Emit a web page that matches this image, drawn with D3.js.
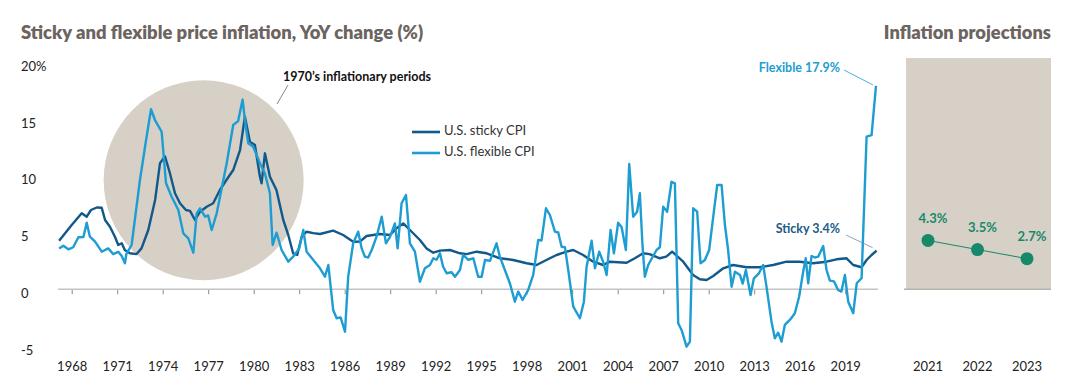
<!DOCTYPE html>
<html>
<head>
  <title>Sticky and flexible price inflation</title>
  <style>
    body { margin: 0; background: #fff; }
    svg text { font-family: Lato, "Open Sans", sans-serif; }
    .title { font-weight: 800; fill: #6c645f; }
    .tick-label { font-size: 13px; fill: #222; }
    .legend-label { font-size: 13px; fill: #333; }
    .note { font-size: 12.5px; font-weight: 700; }
  </style>
  <script src="https://d3js.org/d3.v7.min.js"></script>
</head>
<body>
  <div id="chart"></div>
  <script>
    const width = 1080;
    const height = 391;

    // year ticks and y ticks
    const yearTicks = [1968, 1971, 1974, 1977, 1980, 1983, 1986, 1989, 1992, 1995, 1998, 2001, 2004, 2007, 2010, 2013, 2016, 2019];
    const yTicks = [20, 15, 10, 5, 0, -5];

    // [year, YoY %]
    const stickyCPI = [
      [1967.17, 4.28], [1968.0, 5.66], [1968.66, 6.69], [1968.99, 6.39], [1969.27, 6.98], [1969.65, 7.2],
      [1969.98, 7.18], [1970.2, 6.1], [1970.52, 5.5], [1970.85, 4.63], [1971.07, 3.9], [1971.3, 4.05],
      [1971.5, 3.46], [1971.84, 3.17], [1972.28, 3.1], [1972.6, 3.6], [1973.05, 5.22], [1973.5, 7.86],
      [1973.82, 11.09], [1974.15, 11.7], [1974.48, 10.2], [1974.81, 8.45], [1975.14, 7.57], [1975.53, 6.98],
      [1975.8, 6.9], [1976.13, 6.1], [1976.46, 6.83], [1976.9, 7.27], [1977.33, 7.57], [1977.77, 8.74],
      [1978.2, 9.62], [1978.65, 10.5], [1979.1, 12.26], [1979.42, 15.19], [1979.75, 13.0], [1980.08, 12.7],
      [1980.41, 9.91], [1980.52, 9.33], [1980.74, 11.97], [1981.07, 9.9], [1981.5, 8.74], [1981.95, 6.1],
      [1982.28, 4.78], [1982.6, 3.17], [1982.87, 3.02], [1983.16, 4.63], [1983.49, 5.07], [1983.93, 4.95],
      [1984.37, 4.87], [1985.24, 5.16], [1985.9, 4.78], [1986.56, 4.19], [1987.0, 4.2], [1987.44, 4.69],
      [1988.32, 4.87], [1988.98, 4.78], [1989.42, 5.37], [1989.86, 5.8], [1990.3, 5.22], [1990.96, 4.34],
      [1991.4, 3.6], [1991.84, 3.22], [1992.28, 3.4], [1992.94, 3.46], [1993.6, 3.17], [1994.04, 3.1],
      [1994.7, 3.31], [1995.36, 3.17], [1996.23, 2.73], [1997.11, 2.58], [1998.0, 2.29], [1998.65, 2.14],
      [1999.3, 2.58], [1999.97, 3.02], [2000.63, 3.31], [2001.07, 3.46], [2001.72, 3.02], [2002.38, 2.43],
      [2003.04, 2.14], [2003.49, 2.43], [2004.59, 2.34], [2005.13, 2.73], [2005.68, 3.17], [2006.1, 3.1],
      [2006.78, 2.73], [2007.2, 2.87], [2007.59, 3.31], [2008.32, 2.43], [2008.97, 1.26], [2009.42, 0.88],
      [2009.86, 0.82], [2010.3, 1.17], [2010.96, 1.85], [2011.6, 2.14], [2012.5, 1.94], [2013.37, 1.94],
      [2014.25, 2.14], [2015.13, 2.43], [2016.0, 2.43], [2016.88, 2.29], [2017.77, 2.43], [2018.43, 2.64],
      [2019.09, 2.73], [2019.53, 2.14], [2020.08, 1.94], [2020.41, 2.58], [2020.74, 3.02], [2021.07, 3.4]
    ];

    const flexibleCPI = [
      [1967.17, 3.6], [1967.45, 3.84], [1967.78, 3.52], [1968.1, 3.7], [1968.44, 4.58], [1968.77, 4.6],
      [1968.99, 5.86], [1969.2, 4.63], [1969.54, 4.19], [1969.98, 3.31], [1970.41, 3.6], [1970.74, 3.1],
      [1971.07, 3.3], [1971.3, 2.93], [1971.51, 2.29], [1971.6, 3.1], [1971.95, 3.9], [1972.5, 9.62],
      [1972.9, 13.1], [1973.23, 15.85], [1973.49, 14.9], [1973.93, 13.87], [1974.22, 9.33], [1974.59, 8.15],
      [1975.03, 6.98], [1975.36, 4.93], [1975.69, 4.49], [1976.02, 3.22], [1976.24, 6.69], [1976.46, 7.13],
      [1976.79, 6.39], [1977.0, 6.5], [1977.23, 5.22], [1977.56, 6.69], [1978.22, 11.09], [1978.65, 14.46],
      [1978.97, 14.8], [1979.27, 16.7], [1979.42, 14.9], [1979.64, 12.85], [1979.97, 12.55], [1980.41, 11.09],
      [1980.74, 10.2], [1981.07, 8.45], [1981.25, 3.9], [1981.51, 4.98], [1981.84, 3.46], [1982.28, 2.43],
      [1982.6, 2.87], [1983.0, 3.6], [1983.27, 5.22], [1983.49, 3.31], [1983.93, 2.58], [1984.37, 1.85],
      [1984.7, 1.11], [1984.92, 2.14], [1985.24, -1.82], [1985.47, -2.55], [1985.73, -2.47], [1986.02, -3.73],
      [1986.23, 1.11], [1986.56, 4.05], [1986.89, 5.07], [1987.12, 3.6], [1987.33, 2.87], [1987.55, 2.8],
      [1987.78, 3.46], [1988.1, 4.63], [1988.44, 6.39], [1988.72, 4.05], [1988.98, 4.6], [1989.31, 5.8],
      [1989.49, 3.6], [1989.75, 7.57], [1990.04, 8.3], [1990.3, 4.05], [1990.63, 3.31], [1990.96, 0.67],
      [1991.29, 1.85], [1991.62, 2.14], [1991.84, 2.73], [1992.06, 2.6], [1992.28, 3.17], [1992.49, 1.99],
      [1992.72, 1.41], [1993.05, 1.5], [1993.27, 1.11], [1993.6, 1.7], [1993.81, 3.02], [1994.15, 2.6],
      [1994.48, 2.73], [1994.8, 1.11], [1995.03, 1.1], [1995.25, 2.58], [1995.58, 2.5], [1996.01, 4.05],
      [1996.23, 2.87], [1996.56, 1.7], [1996.89, 0.53], [1997.22, -1.09], [1997.44, -0.21], [1997.73, -0.94],
      [1998.1, -0.06], [1998.43, 1.26], [1998.76, 4.34], [1998.98, 4.3], [1999.27, 7.13], [1999.53, 6.54],
      [1999.86, 5.07], [2000.08, 5.0], [2000.3, 3.75], [2000.52, 3.7], [2000.74, 1.7], [2001.07, -1.53],
      [2001.51, -2.55], [2001.77, -1.09], [2001.95, 1.99], [2002.28, 4.28], [2002.5, 1.85], [2002.78, 3.31],
      [2003.04, 2.43], [2003.27, 1.26], [2003.53, 5.22], [2003.75, 3.17], [2004.03, 5.86], [2004.26, 5.46],
      [2004.54, 3.46], [2004.76, 11.03], [2005.02, 6.39], [2005.28, 6.83], [2005.46, 8.45], [2005.64, 3.75],
      [2005.79, 1.11], [2006.01, 2.14], [2006.34, 2.93], [2006.56, 3.46], [2006.78, 3.7], [2007.0, 7.27],
      [2007.26, 6.83], [2007.55, 9.47], [2007.77, 9.33], [2007.99, -2.99], [2008.21, -3.58], [2008.54, -5.05],
      [2008.76, -4.61], [2008.98, 7.13], [2009.24, 6.83], [2009.46, 2.29], [2009.75, 2.58], [2010.03, 3.46],
      [2010.3, 6.39], [2010.56, 9.18], [2010.85, 9.18], [2011.07, 5.66], [2011.28, 3.46], [2011.51, 0.23],
      [2011.73, 1.55], [2012.06, 1.26], [2012.24, 0.5], [2012.45, 1.7], [2012.76, -0.5], [2012.98, 0.97],
      [2013.31, 1.41], [2013.59, 2.14], [2013.81, 0.23], [2014.14, -2.85], [2014.36, -4.31], [2014.58, -3.82],
      [2014.8, -4.61], [2015.02, -3.14], [2015.35, -2.7], [2015.68, -2.11], [2015.96, -0.65], [2016.23, 1.55],
      [2016.4, 2.73], [2016.56, 0.53], [2016.78, 2.93], [2017.0, 2.8], [2017.22, 2.87], [2017.55, 3.81],
      [2017.77, 1.7], [2017.99, 0.76], [2018.26, 0.7], [2018.53, -0.06], [2018.75, -0.2], [2018.98, 1.26],
      [2019.2, -1.09], [2019.53, -2.11], [2019.76, 0.53], [2020.08, 0.97], [2020.41, 13.43], [2020.74, 13.58],
      [2021.03, 17.9]
    ];

    const projectionYears = ["2021", "2022", "2023"];
    const projectionValues = [4.3, 3.5, 2.7];

    const stickyColor = "#11598a";
    const flexColor = "#1d9dd1";
    const beige = "#d6d0c6";
    const green = "#17896a";

    const svg = d3.select("#chart")
      .append("svg")
      .attr("width", width)
      .attr("height", height);

    const x = d3.scaleLinear().domain([1968, 2019]).range([71.7, 845.2]);
    const y = d3.scaleLinear().domain([-5, 20]).range([346.1, 62.1]);
    const xProj = d3.scalePoint().domain(projectionYears).range([928, 1027]);

    // titles
    svg.append("text")
      .attr("class", "title")
      .attr("x", 21).attr("y", 34)
      .attr("dominant-baseline", "middle")
      .style("font-size", "18.4px")
      .text("Sticky and flexible price inflation, YoY change (%)");

    svg.append("text")
      .attr("class", "title")
      .attr("x", 1051).attr("y", 34)
      .attr("text-anchor", "end")
      .attr("dominant-baseline", "middle")
      .style("font-size", "18.3px")
      .text("Inflation projections");

    // 1970s circle
    svg.append("circle")
      .attr("cx", x(1976.7))
      .attr("cy", y(9.6))
      .attr("r", 100)
      .attr("fill", beige);

    // projections panel
    svg.append("rect")
      .attr("x", 906).attr("y", 58)
      .attr("width", 145).attr("height", y(0) - 58)
      .attr("fill", beige);

    svg.append("line")
      .attr("x1", 904).attr("x2", 1051)
      .attr("y1", y(0)).attr("y2", y(0))
      .attr("stroke", "#b5b1ab").attr("stroke-width", 1.5);

    // y tick labels
    svg.append("g")
      .selectAll("text")
      .data(yTicks)
      .enter()
      .append("text")
      .attr("class", "tick-label")
      .attr("x", 21)
      .attr("y", d => y(d) + 5.5)
      .attr("dominant-baseline", "middle")
      .text(d => d === 20 ? "20%" : d);

    // zero line with year ticks
    const xAxis = d3.axisBottom(x)
      .tickValues(yearTicks)
      .tickFormat(d3.format("d"))
      .tickSize(5)
      .tickSizeOuter(0);

    const axisG = svg.append("g")
      .attr("transform", `translate(0,${y(0)})`)
      .call(xAxis);
    axisG.select(".domain").remove();
    axisG.selectAll(".tick line").attr("stroke", "#8a8a8a");
    axisG.selectAll(".tick text")
      .attr("class", "tick-label")
      .attr("y", 78)
      .attr("dy", null)
      .attr("dominant-baseline", "middle");

    svg.append("line")
      .attr("x1", 58).attr("x2", 878)
      .attr("y1", y(0)).attr("y2", y(0))
      .attr("stroke", "#c4c4c4").attr("stroke-width", 1.5);

    // projection year labels
    svg.append("g")
      .selectAll("text")
      .data(projectionYears)
      .enter()
      .append("text")
      .attr("class", "tick-label")
      .attr("x", d => xProj(d))
      .attr("y", y(0) + 78)
      .attr("text-anchor", "middle")
      .attr("dominant-baseline", "middle")
      .text(d => d);

    // series lines
    const line = d3.line()
      .x(d => x(d[0]))
      .y(d => y(d[1]));

    svg.append("path")
      .datum(stickyCPI)
      .attr("d", line)
      .attr("fill", "none")
      .attr("stroke", stickyColor)
      .attr("stroke-width", 2.4)
      .attr("stroke-linejoin", "round");

    svg.append("path")
      .datum(flexibleCPI)
      .attr("d", line)
      .attr("fill", "none")
      .attr("stroke", flexColor)
      .attr("stroke-width", 2.4)
      .attr("stroke-linejoin", "round");

    // legend
    const legendItems = [
      { label: "U.S. sticky CPI", color: stickyColor },
      { label: "U.S. flexible CPI", color: flexColor }
    ];
    const legend = svg.append("g").attr("transform", "translate(412,132)");
    legendItems.forEach((d, i) => {
      legend.append("line")
        .attr("x1", 0).attr("x2", 28)
        .attr("y1", i * 21).attr("y2", i * 21)
        .attr("stroke", d.color).attr("stroke-width", 2.6);
      legend.append("text")
        .attr("class", "legend-label")
        .attr("x", 32).attr("y", i * 21)
        .attr("dominant-baseline", "middle")
        .text(d.label);
    });

    // annotations
    svg.append("text")
      .attr("class", "note")
      .attr("x", 283).attr("y", 78)
      .attr("dominant-baseline", "middle")
      .attr("fill", "#111")
      .text("1970\u2019s inflationary periods");
    svg.append("line")
      .attr("x1", 288).attr("y1", 85)
      .attr("x2", 277).attr("y2", 104)
      .attr("stroke", "#666").attr("stroke-width", 0.8);

    const lastFlex = flexibleCPI[flexibleCPI.length - 1];
    const lastSticky = stickyCPI[stickyCPI.length - 1];

    svg.append("text")
      .attr("class", "note")
      .attr("x", 840).attr("y", 69)
      .attr("text-anchor", "end")
      .attr("dominant-baseline", "middle")
      .attr("fill", flexColor)
      .text(`Flexible ${lastFlex[1].toFixed(1)}%`);
    svg.append("line")
      .attr("x1", 844).attr("y1", 70)
      .attr("x2", x(lastFlex[0]) - 3).attr("y2", y(lastFlex[1]) - 1)
      .attr("stroke", flexColor).attr("stroke-width", 0.8);

    svg.append("text")
      .attr("class", "note")
      .attr("x", 840).attr("y", 230)
      .attr("text-anchor", "end")
      .attr("dominant-baseline", "middle")
      .attr("fill", "#1d5b86")
      .text(`Sticky ${lastSticky[1].toFixed(1)}%`);
    svg.append("line")
      .attr("x1", 846).attr("y1", 235)
      .attr("x2", x(lastSticky[0]) - 4).attr("y2", y(lastSticky[1]) - 3)
      .attr("stroke", "#5e8fb3").attr("stroke-width", 0.8);

    // projections
    const projData = projectionYears.map((d, i) => ({ year: d, value: projectionValues[i] }));

    svg.append("path")
      .datum(projData)
      .attr("d", d3.line().x(d => xProj(d.year)).y(d => y(d.value)))
      .attr("fill", "none")
      .attr("stroke", green)
      .attr("stroke-width", 1);

    svg.append("g")
      .selectAll("circle")
      .data(projData)
      .enter()
      .append("circle")
      .attr("cx", d => xProj(d.year))
      .attr("cy", d => y(d.value))
      .attr("r", 6.5)
      .attr("fill", green);

    svg.append("g")
      .selectAll("text")
      .data(projData)
      .enter()
      .append("text")
      .attr("class", "note")
      .attr("x", d => xProj(d.year) + 5)
      .attr("y", d => y(d.value) - 21)
      .attr("text-anchor", "middle")
      .attr("dominant-baseline", "middle")
      .attr("fill", green)
      .style("font-size", "13px")
      .text(d => d.value.toFixed(1) + "%");
  </script>
</body>
</html>
